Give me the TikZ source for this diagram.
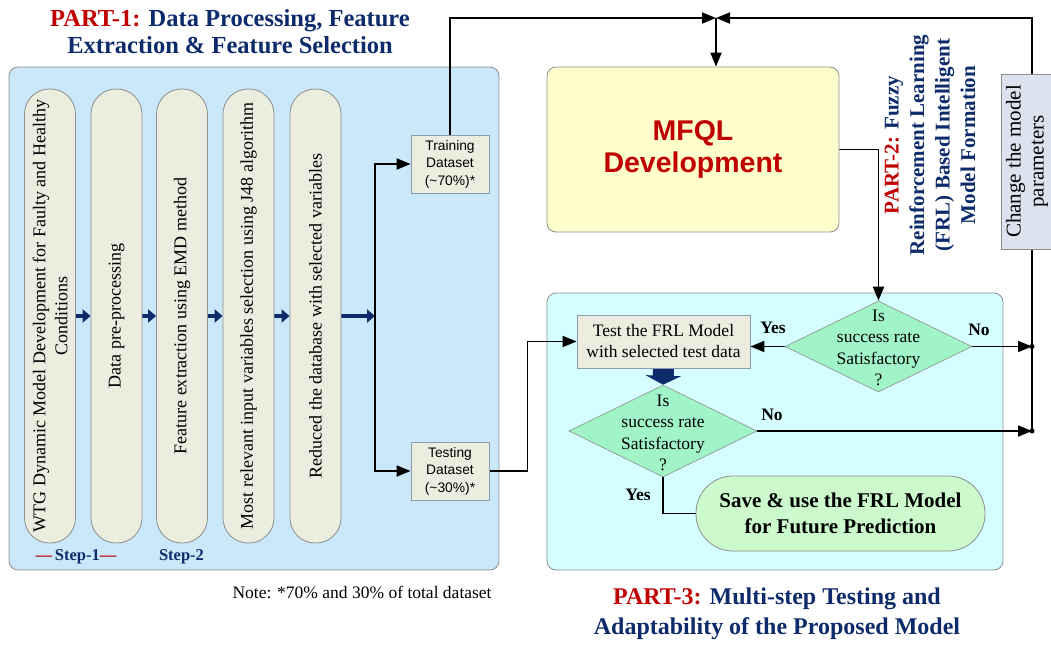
\documentclass[tikz,border=0pt]{standalone}
\usepackage{fontspec}
\setmainfont{Liberation Serif}
\newfontfamily\arialfont{Liberation Sans}
\usetikzlibrary{arrows.meta,shapes.geometric,calc}
\definecolor{pred}{HTML}{C00000}
\definecolor{navy}{HTML}{0D2B6B}
\definecolor{panelA}{HTML}{CAE8FA}
\definecolor{panelC}{HTML}{D4FEFF}
\definecolor{pillarfill}{HTML}{EBEDDE}
\definecolor{mfqlfill}{HTML}{FFFFCC}
\definecolor{diamfill}{HTML}{A0F4C8}
\definecolor{savefill}{HTML}{CCFACC}
\definecolor{chgfill}{HTML}{DCE2EE}
\definecolor{edgegray}{HTML}{8E8E8E}
\definecolor{boxedge}{HTML}{8C9BB5}
\pgfdeclarelayer{panel}
\pgfdeclarelayer{lines}
\pgfsetlayers{panel,lines,main}
\begin{document}
\begin{tikzpicture}[x=1pt,y=-1pt,
  panelbox/.style={draw=edgegray, line width=0.8pt, rounded corners=9pt},
  pillar/.style={draw=edgegray, fill=pillarfill, line width=0.8pt, rounded corners=25pt,
    minimum width=454pt, minimum height=51pt, rotate=90, align=center, inner sep=2pt,
    font=\fontsize{18}{22}\selectfont},
  dsbox/.style={draw=boxedge, fill=pillarfill, line width=0.8pt, minimum width=78pt,
    minimum height=58pt, align=center, inner sep=1pt, font=\arialfont\fontsize{13.8}{17.5}\selectfont},
  diam/.style={draw=edgegray, fill=diamfill, line width=0.6pt, diamond, minimum width=187pt,
    minimum height=91pt, inner sep=0pt},
  dtext/.style={align=center, font=\fontsize{17.5}{21.3}\selectfont, inner sep=0pt},
  yn/.style={font=\bfseries\fontsize{17.5}{20}\selectfont},
  conn/.style={draw=black, line width=1.8pt, -{Triangle[length=14pt,width=11pt]}},
  plainline/.style={draw=black, line width=1.8pt},
  fatarrow/.style={draw=navy, line width=3.8pt, -{Triangle[length=8pt,width=13pt]}},
  title/.style={align=center, text=navy, font=\bfseries\fontsize{24.5}{27}\selectfont},
  dot/.style={circle, fill=black, inner sep=0pt, minimum size=5pt}
]
\useasboundingbox (0,0) rectangle (1051,645);

% titles
\node[title] (t1) at (230,32) {\textcolor{pred}{PART-1:} Data Processing, Feature\\Extraction \& Feature Selection};
\node[title, font=\bfseries\fontsize{24}{30}\selectfont] (t3) at (777,614) {\textcolor{pred}{PART-3:} Multi-step Testing and\\Adaptability of the Proposed Model};
\node[title, rotate=90, font=\bfseries\fontsize{21}{25.5}\selectfont] (t2) at (930,145)
  {\textcolor{pred}{PART-2:} Fuzzy\\Reinforcement Learning\\(FRL) Based Intelligent\\Model Formation};

% pillars
\node[pillar] (p1) at (50,316) {WTG Dynamic Model Development for Faulty and Healthy\\Conditions};
\node[pillar] (p2) at (116.5,316) {Data pre-processing};
\node[pillar] (p3) at (182,316) {Feature extraction using EMD method};
\node[pillar] (p4) at (248.5,316) {Most relevant input variables selection using J48 algorithm};
\node[pillar] (p5) at (315.5,316) {Reduced the database with selected variables};
\coordinate (sp) at (375,316);

\node[text=navy, font=\bfseries\fontsize{16.5}{20}\selectfont] (s1) at (76,557) {\textcolor{pred}{---}\,Step-1\textcolor{pred}{---}};
\node[text=navy, font=\bfseries\fontsize{16.5}{20}\selectfont] (s2) at (181.5,557) {Step-2};

\node[dsbox] (train) at (450,164) {Training\\Dataset\\(\textasciitilde70\%)*};
\node[dsbox] (testd) at (450,471) {Testing\\Dataset\\(\textasciitilde30\%)*};

\node[anchor=west, font=\fontsize{17.5}{20}\selectfont] (note) at (229,592) {Note: *70\% and 30\% of total dataset};

% MFQL
\node[draw=edgegray, fill=mfqlfill, line width=0.8pt, rounded corners=9pt, minimum width=292pt,
  minimum height=165pt, align=center, text=pred, font=\arialfont\bfseries\fontsize{28.5}{32}\selectfont]
  (mfql) at (693,149.5) {MFQL\\Development};

% change box
\node[draw=edgegray, fill=chgfill, line width=0.8pt, rotate=90, minimum width=175pt, minimum height=52pt,
  align=center, inner sep=1pt, font=\fontsize{21}{23}\selectfont] (chg) at (1027,161.5) {Change the model\\parameters};

% part-3 contents
\node[draw=boxedge, fill=pillarfill, line width=0.8pt, minimum width=173pt, minimum height=53pt,
  align=center, inner sep=1pt, font=\fontsize{17.5}{21}\selectfont] (test) at (663.5,341.5)
  {Test the FRL Model\\with selected test data};
\node[diam] (d1) at (878.5,346.5) {};
\node[dtext] (d1t) at (878.5,348) {Is\\success rate\\Satisfactory\\?};
\node[diam, minimum width=188pt, minimum height=92pt] (d2) at (663,431) {};
\node[dtext] (d2t) at (663,433) {Is\\success rate\\Satisfactory\\?};
\node[draw=edgegray, fill=savefill, line width=0.8pt, rounded corners=37pt, minimum width=289pt,
  minimum height=75pt, align=center, font=\bfseries\fontsize{21}{26}\selectfont] (save) at (840.5,513.5)
  {Save \& use the FRL Model\\for Future Prediction};

\node[yn] (y1) at (773,328) {Yes};
\node[yn] (n1) at (979,330) {No};
\node[yn] (n2) at (772,415) {No};
\node[yn] (y2) at (638,495) {Yes};

\coordinate (j) at (716,18);
\coordinate (rc) at (1032,18);
\node[dot] (dot1) at (d1.east -| rc) {};
\node[dot] (dot2) at (d2.east -| rc) {};

\begin{pgfonlayer}{panel}
  \draw[panelbox, fill=panelA] (9,67) rectangle (499,570);
  \draw[panelbox, fill=panelC] (547,293) rectangle (1003,570);
\end{pgfonlayer}

\begin{pgfonlayer}{lines}
  \draw[fatarrow] (p1.south) -- (p2.north);
  \draw[fatarrow] (p2.south) -- (p3.north);
  \draw[fatarrow] (p3.south) -- (p4.north);
  \draw[fatarrow] (p4.south) -- (p5.north);
  \draw[fatarrow] (p5.south) -- (sp);
  \draw[conn] (sp) |- (train.west);
  \draw[conn] (sp) |- (testd.west);
  \draw[conn] (train.north) |- (j);
  \draw[conn] (dot2.center) -- (rc) -- (j);
  \draw[conn] (j) -- (j |- mfql.north);
  \draw[conn] (mfql.east) -| (d1.north);
  \draw[conn] (testd.east) -- ++(38,0) |- (test.west);
  \draw[conn] (d1.west) -- (d1.west -| test.east);
  \draw[conn] (d1.east) -- (dot1.center);
  \draw[conn] (d2.east) -- (dot2.center);
  \draw[plainline] (d2.south) |- (save.west);
  \draw[draw=navy, line width=21pt, -{Triangle[length=9pt,width=35pt]}] (test.south) -- (d2.north);
\end{pgfonlayer}
\end{tikzpicture}
\end{document}
